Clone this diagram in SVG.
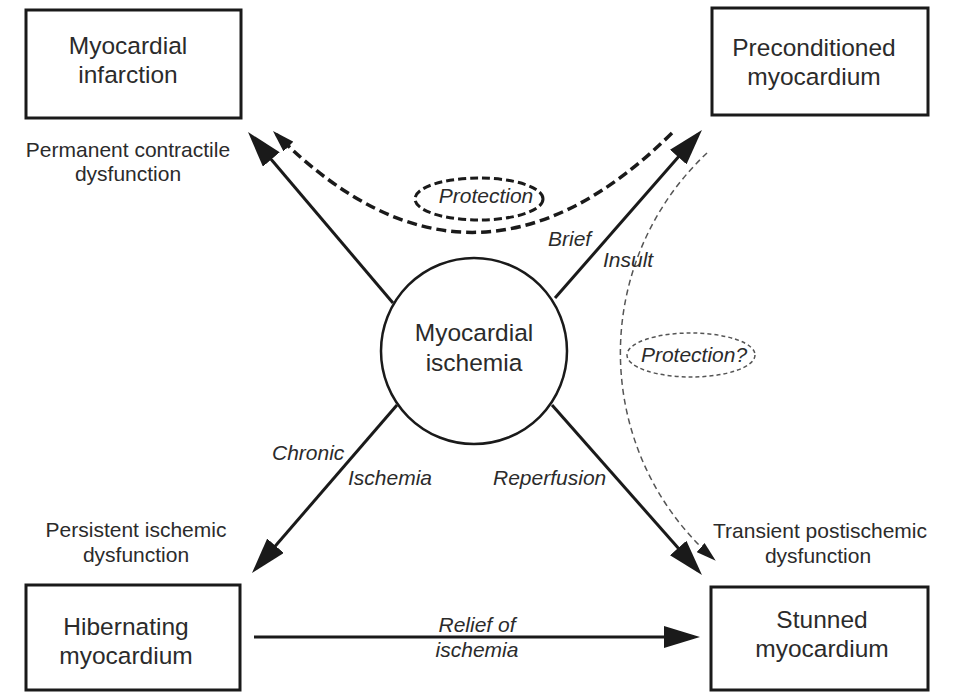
<svg xmlns="http://www.w3.org/2000/svg" width="953" height="692" viewBox="0 0 953 692">
<style>
.box{fill:#fff;stroke:#1a1a1a;stroke-width:3}
.bt{font-family:"Liberation Sans",Arial,sans-serif;font-size:24.5px;fill:#2b2b2b;text-anchor:middle}
.lb{font-family:"Liberation Sans",Arial,sans-serif;font-size:21px;fill:#2b2b2b;text-anchor:middle}
.it{font-family:"Liberation Sans",Arial,sans-serif;font-size:21px;font-style:italic;fill:#2b2b2b}
.sol{fill:none;stroke:#1a1a1a;stroke-width:3}
.thd{fill:none;stroke:#1a1a1a;stroke-width:3.5;stroke-dasharray:10 5}
.tnd{fill:none;stroke:#555;stroke-width:1.5;stroke-dasharray:6 4}
</style>
<defs>
<marker id="ah" markerWidth="36" markerHeight="22" refX="30" refY="11" orient="auto" markerUnits="userSpaceOnUse"><path d="M0,0 L36,11 L0,22 z" fill="#1a1a1a"/></marker>
<marker id="ahd" markerWidth="22" markerHeight="14" refX="17" refY="7" orient="auto" markerUnits="userSpaceOnUse"><path d="M0,0 L22,7 L0,14 z" fill="#1a1a1a"/></marker>
<marker id="aht" markerWidth="20" markerHeight="12" refX="19" refY="6" orient="auto" markerUnits="userSpaceOnUse"><path d="M0,0 L20,6 L0,12 z" fill="#1a1a1a"/></marker>
</defs>
<rect width="953" height="692" fill="#fff"/>

<g id="connectors">
<line class="sol" x1="393" y1="303" x2="251.9" y2="136.6" marker-end="url(#ah)"/>
<line class="sol" x1="555" y1="298" x2="698" y2="134.5" marker-end="url(#ah)"/>
<line class="sol" x1="397" y1="405" x2="255.9" y2="568.5" marker-end="url(#ah)"/>
<line class="sol" x1="552" y1="405" x2="698" y2="570.5" marker-end="url(#ah)"/>
<line class="sol" x1="254" y1="637" x2="694" y2="637" marker-end="url(#ah)"/>
<path class="thd" d="M672,133 Q472,331 276.5,134.5" marker-end="url(#ahd)"/>
<path class="tnd" d="M707,153 A274,274 0 0,0 715,560" marker-end="url(#aht)"/>
</g>

<g id="protection">
<ellipse cx="479" cy="199" rx="64" ry="21" fill="none" stroke="#1a1a1a" stroke-width="3" stroke-dasharray="8 4"/>
<text class="it" x="486" y="203" text-anchor="middle">Protection</text>
</g>
<g id="protection-q">
<ellipse cx="691" cy="355" rx="64" ry="22" fill="none" stroke="#555" stroke-width="1.5" stroke-dasharray="4 3"/>
<text class="it" x="694" y="362" text-anchor="middle">Protection?</text>
</g>

<g id="ischemia">
<circle cx="474" cy="351" r="93" fill="#fff" stroke="#1a1a1a" stroke-width="2.5"/>
<text class="bt" x="474" y="341">Myocardial</text>
<text class="bt" x="474" y="371">ischemia</text>
</g>

<g id="infarction">
<rect class="box" x="26" y="10" width="215" height="108"/>
<text class="bt" x="128" y="54">Myocardial</text>
<text class="bt" x="128" y="83">infarction</text>
</g>
<g id="preconditioned">
<rect class="box" x="712" y="8" width="216" height="107"/>
<text class="bt" x="814" y="56">Preconditioned</text>
<text class="bt" x="814" y="85">myocardium</text>
</g>
<g id="hibernating">
<rect class="box" x="26" y="585" width="214" height="105"/>
<text class="bt" x="126" y="635">Hibernating</text>
<text class="bt" x="126" y="664">myocardium</text>
</g>
<g id="stunned">
<rect class="box" x="711" y="587" width="217" height="103"/>
<text class="bt" x="822" y="628">Stunned</text>
<text class="bt" x="822" y="657">myocardium</text>
</g>

<g id="labels">
<text class="lb" x="128" y="157">Permanent contractile</text>
<text class="lb" x="128" y="181">dysfunction</text>
<text class="lb" x="136" y="537">Persistent ischemic</text>
<text class="lb" x="136" y="562">dysfunction</text>
<text class="lb" x="820" y="538">Transient postischemic</text>
<text class="lb" x="818" y="563">dysfunction</text>
<text class="it" x="548" y="246">Brief</text>
<text class="it" x="603" y="267">Insult</text>
<text class="it" x="272" y="460">Chronic</text>
<text class="it" x="348" y="485">Ischemia</text>
<text class="it" x="493" y="485">Reperfusion</text>
<text class="it" x="477" y="632" text-anchor="middle">Relief of</text>
<text class="it" x="477" y="657" text-anchor="middle">ischemia</text>
</g>
</svg>
